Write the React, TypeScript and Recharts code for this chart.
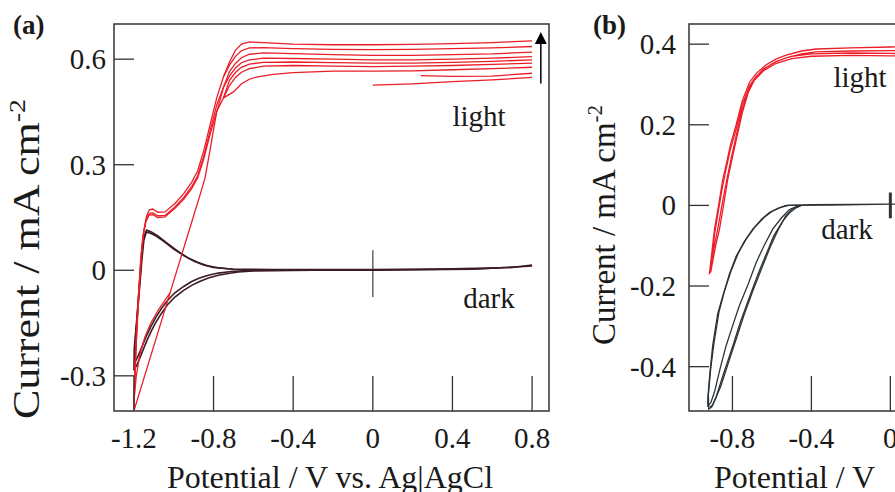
import React from "react";
import {
  LineChart,
  Line,
  XAxis,
  YAxis,
  ReferenceArea,
  ReferenceLine,
  ReferenceDot,
} from "recharts";

// ---- panel (a): potential vs. Ag|AgCl ----
const A_X_TICKS = [-1.2, -0.8, -0.4, 0, 0.4, 0.8];
const A_Y_TICKS = [-0.3, 0, 0.3, 0.6];

// light: plateau traces (swept from +0.8 V towards the onset)
const aPlateau1 = [[0.8, 0.652], [0.6, 0.647], [0.4, 0.644], [0.2, 0.642], [0, 0.641], [-0.2, 0.641], [-0.4, 0.643], [-0.55, 0.647], [-0.62, 0.649], [-0.66, 0.643], [-0.69, 0.625], [-0.72, 0.592], [-0.75, 0.55]];
const aPlateau2 = [[0.8, 0.636], [0.6, 0.632], [0.4, 0.63], [0.2, 0.628], [0, 0.627], [-0.2, 0.628], [-0.4, 0.63], [-0.55, 0.633], [-0.62, 0.632], [-0.66, 0.624], [-0.69, 0.608], [-0.72, 0.583], [-0.75, 0.55]];
const aPlateau3 = [[0.8, 0.62], [0.6, 0.615], [0.4, 0.613], [0.2, 0.611], [0, 0.611], [-0.2, 0.613], [-0.4, 0.616], [-0.55, 0.618], [-0.62, 0.614], [-0.66, 0.604], [-0.69, 0.588], [-0.72, 0.565], [-0.75, 0.52]];
const aPlateau4 = [[0.8, 0.607], [0.6, 0.603], [0.4, 0.6], [0.2, 0.598], [0, 0.598], [-0.2, 0.6], [-0.4, 0.602], [-0.55, 0.603], [-0.62, 0.598], [-0.66, 0.59], [-0.69, 0.575], [-0.72, 0.552], [-0.75, 0.52]];
const aPlateau5 = [[0.8, 0.598], [0.6, 0.594], [0.4, 0.591], [0.2, 0.589], [0, 0.589], [-0.2, 0.59], [-0.4, 0.592], [-0.55, 0.591], [-0.62, 0.586], [-0.66, 0.577], [-0.69, 0.562], [-0.72, 0.54], [-0.75, 0.49]];
const aPlateau6 = [[0.8, 0.589], [0.6, 0.585], [0.4, 0.582], [0.2, 0.58], [0, 0.579], [-0.2, 0.58], [-0.4, 0.582], [-0.55, 0.58], [-0.62, 0.573], [-0.66, 0.563], [-0.69, 0.548], [-0.72, 0.525], [-0.75, 0.49]];
const aPlateau7 = [[0.8, 0.577], [0.6, 0.573], [0.4, 0.57], [0.2, 0.567], [0, 0.566], [-0.2, 0.566], [-0.4, 0.562], [-0.5, 0.557], [-0.58, 0.55], [-0.62, 0.543], [-0.66, 0.53], [-0.7, 0.507], [-0.75, 0.49]];
// light: first scan starting at 0 V
const aStart1 = [[0, 0.526], [0.2, 0.53], [0.4, 0.536], [0.6, 0.541], [0.8, 0.548]];
const aStart2 = [[0.24, 0.553], [0.4, 0.551], [0.6, 0.552], [0.8, 0.56]];
// light: onset branch with the shoulder near -1.1 V
const aHumpA = [[-0.75, 0.55], [-0.784, 0.49], [-0.818, 0.412], [-0.85, 0.338], [-0.88, 0.282], [-0.91, 0.25], [-0.95, 0.218], [-0.994, 0.19], [-1.044, 0.166], [-1.08, 0.165], [-1.105, 0.174], [-1.122, 0.172], [-1.136, 0.155], [-1.148, 0.12], [-1.16, 0.06], [-1.17, -0.02], [-1.18, -0.12], [-1.19, -0.23], [-1.196, -0.33], [-1.2, -0.39]];
const aHumpB = [[-0.75, 0.52], [-0.784, 0.47], [-0.818, 0.395], [-0.85, 0.322], [-0.88, 0.268], [-0.91, 0.238], [-0.95, 0.207], [-0.994, 0.18], [-1.044, 0.156], [-1.08, 0.155], [-1.105, 0.163], [-1.122, 0.162], [-1.138, 0.145], [-1.152, 0.105], [-1.163, 0.045], [-1.173, -0.04], [-1.183, -0.14], [-1.192, -0.25], [-1.198, -0.35], [-1.2, -0.395]];
const aHumpC = [[-0.75, 0.49], [-0.784, 0.452], [-0.818, 0.385], [-0.85, 0.315], [-0.88, 0.262], [-0.91, 0.232], [-0.95, 0.202], [-0.994, 0.176], [-1.044, 0.152], [-1.08, 0.15], [-1.105, 0.158], [-1.125, 0.156], [-1.14, 0.138], [-1.155, 0.095], [-1.166, 0.03], [-1.176, -0.06], [-1.186, -0.16], [-1.194, -0.27], [-1.2, -0.36]];
// light: return scan from -1.2 V
const aReturn = [[-1.2, -0.4], [-1.1, -0.215], [-1.0, -0.03], [-0.9, 0.155], [-0.87, 0.21], [-0.843, 0.262], [-0.818, 0.34], [-0.8, 0.4], [-0.784, 0.45], [-0.75, 0.52]];
const aReturnCurved = [[-1.2, -0.37], [-1.188, -0.3], [-1.17, -0.24], [-1.145, -0.19], [-1.115, -0.15], [-1.08, -0.115], [-1.05, -0.09], [-1.02, -0.066]];

// dark
const aDark1 = [[0.8, 0.015], [0.7, 0.008], [0.5, 0.004], [0.2, 0.002], [0, 0.001], [-0.3, 0], [-0.6, -0.002], [-0.676, -0.005], [-0.726, -0.009], [-0.776, -0.014], [-0.826, -0.022], [-0.87, -0.032], [-0.91, -0.043], [-0.95, -0.057], [-0.994, -0.076], [-1.03, -0.097], [-1.061, -0.122], [-1.09, -0.148], [-1.111, -0.171], [-1.135, -0.2], [-1.153, -0.225], [-1.172, -0.252], [-1.187, -0.272], [-1.2, -0.28], [-1.198, -0.22], [-1.187, -0.15], [-1.175, -0.06], [-1.165, 0.01], [-1.158, 0.06], [-1.15, 0.095], [-1.136, 0.114], [-1.11, 0.108], [-1.078, 0.097], [-1.04, 0.08], [-1.0, 0.063], [-0.969, 0.05], [-0.93, 0.036], [-0.877, 0.022], [-0.83, 0.013], [-0.776, 0.007], [-0.7, 0.003], [-0.5, 0.002], [0, 0.002], [0.4, 0.004], [0.7, 0.008], [0.8, 0.015]];
const aDark2 = [[0.8, 0.012], [0.5, 0.003], [0, 0.0], [-0.6, 0.0], [-0.7, -0.003], [-0.776, -0.008], [-0.826, -0.014], [-0.87, -0.022], [-0.91, -0.032], [-0.95, -0.046], [-0.994, -0.064], [-1.03, -0.085], [-1.061, -0.108], [-1.09, -0.134], [-1.115, -0.16], [-1.14, -0.19], [-1.16, -0.218], [-1.18, -0.245], [-1.195, -0.262], [-1.193, -0.2], [-1.182, -0.12], [-1.17, -0.04], [-1.16, 0.03], [-1.15, 0.085], [-1.138, 0.108], [-1.12, 0.106], [-1.09, 0.098], [-1.05, 0.082], [-1.0, 0.06], [-0.95, 0.042], [-0.9, 0.026], [-0.85, 0.015], [-0.8, 0.008], [-0.7, 0.003]];

// ---- panel (b) ----
const B_X_TICKS = [-0.8, -0.4, 0, 0.4, 0.8];
const B_Y_TICKS = [-0.4, -0.2, 0, 0.2, 0.4];

const bLight1 = [[0.8, 0.394], [0.4, 0.394], [0, 0.393], [-0.2, 0.391], [-0.376, 0.388], [-0.45, 0.383], [-0.528, 0.373], [-0.58, 0.363], [-0.629, 0.349], [-0.68, 0.327], [-0.714, 0.305], [-0.75, 0.26], [-0.781, 0.2], [-0.81, 0.15], [-0.832, 0.1], [-0.849, 0.064], [-0.87, 0.0], [-0.891, -0.06], [-0.905, -0.12], [-0.916, -0.168], [-0.91, -0.165], [-0.885, -0.1], [-0.866, -0.06], [-0.845, 0.0], [-0.824, 0.064], [-0.8, 0.12], [-0.775, 0.175], [-0.75, 0.23], [-0.72, 0.28], [-0.69, 0.31], [-0.64, 0.335], [-0.58, 0.352], [-0.5, 0.364], [-0.4, 0.37], [-0.2, 0.372], [0, 0.371], [0.4, 0.368], [0.8, 0.366]];
const bLight2 = [[0.8, 0.383], [0.4, 0.384], [0, 0.384], [-0.2, 0.383], [-0.376, 0.381], [-0.45, 0.376], [-0.528, 0.366], [-0.58, 0.356], [-0.629, 0.342], [-0.68, 0.32], [-0.714, 0.296], [-0.75, 0.25], [-0.781, 0.19], [-0.81, 0.14], [-0.832, 0.09], [-0.849, 0.05], [-0.87, -0.01], [-0.89, -0.07], [-0.903, -0.13], [-0.91, -0.155], [-0.895, -0.11], [-0.875, -0.06], [-0.855, -0.005], [-0.83, 0.06], [-0.805, 0.12], [-0.78, 0.175], [-0.755, 0.228], [-0.725, 0.278], [-0.695, 0.31], [-0.645, 0.338], [-0.58, 0.357], [-0.5, 0.37], [-0.4, 0.376], [-0.2, 0.378], [0, 0.377], [0.4, 0.374], [0.8, 0.372]];

const bDark1 = [[0.8, 0.004], [0.4, 0.003], [0, 0.003], [-0.3, 0.001], [-0.46, 0.0], [-0.511, -0.01], [-0.55, -0.03], [-0.596, -0.059], [-0.64, -0.1], [-0.68, -0.142], [-0.72, -0.195], [-0.765, -0.249], [-0.8, -0.3], [-0.832, -0.348], [-0.86, -0.4], [-0.891, -0.463], [-0.91, -0.49], [-0.925, -0.497], [-0.925, -0.48], [-0.915, -0.42], [-0.9, -0.348], [-0.875, -0.27], [-0.849, -0.225], [-0.815, -0.17], [-0.781, -0.126], [-0.74, -0.09], [-0.697, -0.059], [-0.65, -0.033], [-0.613, -0.018], [-0.57, -0.007], [-0.528, 0.0], [-0.4, 0.002], [0, 0.003], [0.8, 0.004]];
const bDark2 = [[-0.45, 0.0], [-0.478, -0.006], [-0.51, -0.018], [-0.545, -0.039], [-0.59, -0.075], [-0.629, -0.121], [-0.67, -0.17], [-0.714, -0.228], [-0.76, -0.29], [-0.8, -0.352], [-0.84, -0.41], [-0.883, -0.476], [-0.905, -0.5], [-0.92, -0.505], [-0.922, -0.47], [-0.91, -0.405], [-0.893, -0.34], [-0.868, -0.264], [-0.84, -0.212], [-0.805, -0.16], [-0.77, -0.118], [-0.73, -0.083], [-0.688, -0.055], [-0.64, -0.03], [-0.6, -0.015], [-0.555, -0.005], [-0.515, 0.0], [-0.45, 0.0]];
const bDark3 = [[-0.455, 0.0], [-0.495, -0.008], [-0.53, -0.026], [-0.57, -0.062], [-0.61, -0.105], [-0.655, -0.16], [-0.695, -0.21], [-0.74, -0.27], [-0.78, -0.33], [-0.82, -0.39], [-0.86, -0.45], [-0.9, -0.495], [-0.915, -0.5]];

const RED = "#ec1c28";
const DARK_A = "#3b1c24";
const DARK_B = "#2c3338";
const INK = "#1a1a1a";
const FONT = '"Liberation Serif", "Times New Roman", serif';

const pts = (arr: number[][]) => arr.map(([x, y]) => ({ x, y }));

const fmt = (v: number) => (v === 0 ? "0" : String(v));

function makeXTick(len: number) {
  return (props: any) => {
    const { x, y, payload } = props;
    return (
      <g>
        <line x1={x} x2={x} y1={y} y2={y - len} stroke="#333" strokeWidth={1.3} />
        <text x={x} y={y + 37} textAnchor="middle" fontFamily={FONT} fontSize={29} fill={INK}>
          {fmt(payload.value)}
        </text>
      </g>
    );
  };
}

function makeYTick(len: number, gap: number) {
  return (props: any) => {
    const { x, y, payload } = props;
    return (
      <g>
        <line x1={x} x2={x + len} y1={y} y2={y} stroke="#333" strokeWidth={1.3} />
        <text x={x - gap} y={y + 10} textAnchor="end" fontFamily={FONT} fontSize={29} fill={INK}>
          {fmt(payload.value)}
        </text>
      </g>
    );
  };
}

const series = (arrs: number[][][], color: string, width: number, prefix: string) =>
  arrs.map((a, i) => (
    <Line
      key={prefix + i}
      data={pts(a)}
      dataKey="y"
      type="linear"
      stroke={color}
      strokeWidth={width}
      dot={false}
      activeDot={false}
      isAnimationActive={false}
    />
  ));

const Arrow = (p: any) => (
  <polygon
    points={`${p.cx},${p.cy - 6} ${p.cx - 6},${p.cy + 6} ${p.cx + 6},${p.cy + 6}`}
    fill="#000"
  />
);

function PanelA() {
  const xd: [number, number] = [-1.3, 0.885];
  const yd: [number, number] = [-0.4, 0.7];
  return (
    <LineChart width={560} height={492} margin={{ top: 24, right: 11, bottom: 41, left: 54 }}>
      <XAxis
        type="number"
        dataKey="x"
        domain={xd}
        ticks={A_X_TICKS}
        interval={0}
        allowDataOverflow
        axisLine={false}
        tickLine={false}
        tickSize={0}
        tickMargin={0}
        height={40}
        tick={makeXTick(35)}
      />
      <YAxis
        type="number"
        domain={yd}
        ticks={A_Y_TICKS}
        interval={0}
        allowDataOverflow
        axisLine={false}
        tickLine={false}
        tickSize={0}
        tickMargin={0}
        width={60}
        tick={makeYTick(20, 8)}
      />
      <ReferenceArea x1={xd[0]} x2={xd[1]} y1={yd[0]} y2={yd[1]} fill="none" stroke="#333" strokeWidth={1.5} />
      <ReferenceLine segment={[{ x: 0, y: -0.076 }, { x: 0, y: 0.057 }]} stroke="#666" strokeWidth={1.5} />
      {series([aDark1, aDark2], DARK_A, 1.6, "ad")}
      {series(
        [aPlateau1, aPlateau2, aPlateau3, aPlateau4, aPlateau5, aPlateau6, aPlateau7, aStart1, aStart2, aHumpA, aHumpB, aHumpC, aReturn, aReturnCurved],
        RED,
        1.3,
        "al"
      )}
      <ReferenceLine segment={[{ x: 0.844, y: 0.531 }, { x: 0.844, y: 0.655 }]} stroke="#000" strokeWidth={1.5} />
      <ReferenceDot x={0.844} y={0.66} r={6} shape={Arrow} />
    </LineChart>
  );
}

function PanelB() {
  const xd: [number, number] = [-1.02, 0.9];
  const yd: [number, number] = [-0.51, 0.45];
  return (
    <LineChart width={450} height={492} margin={{ top: 24, right: 11, bottom: 41, left: 0 }}>
      <XAxis
        type="number"
        dataKey="x"
        domain={xd}
        ticks={B_X_TICKS}
        interval={0}
        allowDataOverflow
        axisLine={false}
        tickLine={false}
        tickSize={0}
        tickMargin={0}
        height={40}
        tick={makeXTick(35)}
      />
      <YAxis
        type="number"
        domain={yd}
        ticks={B_Y_TICKS}
        interval={0}
        allowDataOverflow
        axisLine={false}
        tickLine={false}
        tickSize={0}
        tickMargin={0}
        width={60}
        tick={makeYTick(20, 13)}
      />
      <ReferenceArea x1={xd[0]} x2={xd[1]} y1={yd[0]} y2={yd[1]} fill="none" stroke="#333" strokeWidth={1.5} />
      <ReferenceLine segment={[{ x: 0, y: -0.032 }, { x: 0, y: 0.032 }]} stroke="#333" strokeWidth={3} />
      {series([bDark1, bDark2, bDark3], DARK_B, 1.3, "bd")}
      {series([bLight1, bLight2], RED, 1.3, "bl")}
    </LineChart>
  );
}

export default function App() {
  const t = { fontFamily: FONT, fill: INK } as const;
  return (
    <div
      style={{
        position: "fixed",
        left: 0,
        top: 0,
        width: 895,
        height: 492,
        overflow: "hidden",
        background: "#fff",
      }}
    >
      <div style={{ position: "absolute", left: 0, top: 0 }}>
        <PanelA />
      </div>
      <div style={{ position: "absolute", left: 629, top: 0 }}>
        <PanelB />
      </div>
      <svg
        width={895}
        height={492}
        style={{ position: "absolute", left: 0, top: 0, pointerEvents: "none" }}
      >
        <text x={13} y={34} fontSize={27} fontWeight="bold" {...t}>(a)</text>
        <text x={593} y={34} fontSize={27} fontWeight="bold" {...t}>(b)</text>
        <text x={479} y={126} fontSize={29} textAnchor="middle" {...t}>light</text>
        <text x={489} y={308} fontSize={29} textAnchor="middle" {...t}>dark</text>
        <text x={860} y={87} fontSize={29} textAnchor="middle" {...t}>light</text>
        <text x={847} y={239} fontSize={29} textAnchor="middle" {...t}>dark</text>
        <text x={330} y={488} fontSize={32} textAnchor="middle" {...t}>Potential / V vs. Ag|AgCl</text>
        <text x={714} y={488} fontSize={32} {...t}>Potential / V</text>
        <text transform="translate(39,259) rotate(-90) scale(1,0.85)" fontSize={44} textAnchor="middle" {...t}>
          Current / mA cm<tspan fontSize={28} dy={-17}>-2</tspan>
        </text>
        <text transform="translate(615,225) rotate(-90)" fontSize={33} textAnchor="middle" {...t}>
          Current / mA cm<tspan fontSize={21} dy={-13}>-2</tspan>
        </text>
      </svg>
    </div>
  );
}
